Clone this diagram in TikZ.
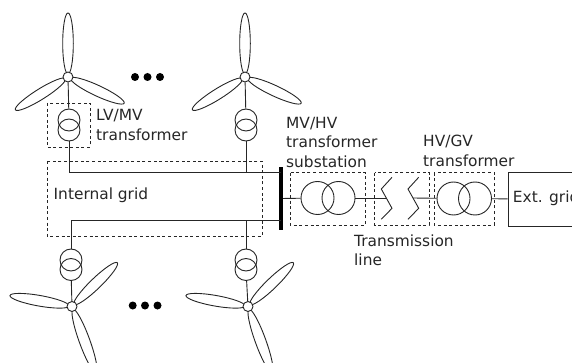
\documentclass[tikz,border=0pt]{standalone}
\usepackage{fontspec}
\setmainfont{DejaVu Sans}
\usepackage{tikz}
\usetikzlibrary{calc}

\tikzset{
    wire/.style={line width=0.9pt,color=black!85},
    hub/.style={circle,draw,line width=0.9pt,color=black!85,fill=white,inner sep=0pt,minimum size=10pt},
    coil/.style={circle,draw,line width=0.9pt,color=black!85,inner sep=0pt,minimum size=22pt},
    bigcoil/.style={circle,draw,line width=0.9pt,color=black!85,inner sep=0pt,minimum size=33pt},
    dashbox/.style={line width=0.8pt,color=black!85,dash pattern=on 3pt off 2.6pt},
    dot/.style={circle,fill=black,inner sep=0pt,minimum size=8pt},
    lbl/.style={anchor=west,align=left,inner sep=0pt,text=black!85,font=\fontsize{15.4}{19.5}\selectfont},
}

\begin{document}
\begin{tikzpicture}[x=1pt,y=-1pt]
    \useasboundingbox (0,0) rectangle (572,363);
    \clip (0,0) rectangle (572,363);
    % upper turbines
    \foreach \name/\hx/\hy in {hubA/68/77, hubB/245/77} {
        \foreach \a/\l in {90/64, 212/62, -25/62}
        \draw[wire,shift={(\hx,\hy)},rotate=\a] (\l/2+1.5,0) ellipse [x radius={(\l/2-1.5)*1pt},y radius=5.3pt];
        \node[hub] (\name) at (\hx,\hy) {};
    }
    % lower turbines
    \foreach \name/\hx/\hy in {hubC/72/306.5, hubD/248/306.5} {
        \foreach \a/\l in {170/63, 44/63, -70/70}
        \draw[wire,shift={(\hx,\hy)},rotate=\a] (\l/2+1.5,0) ellipse [x radius={(\l/2-1.5)*1pt},y radius=5.3pt];
        \node[hub] (\name) at (\hx,\hy) {};
    }
    % small transformers
    \foreach \name/\x/\ya/\yb in {trA/69/120/130, trB/246/120/130, trC/71/260/269.5, trD/246/260/269.5} {
        \node[coil] (\name a) at (\x,\ya) {};
        \node[coil] (\name b) at (\x,\yb) {};
    }
    % busbar
    \node[fill=black,inner sep=0pt,minimum width=3.6pt,minimum height=62pt] (bus) at (281,198.5) {};
    \coordinate (busTop) at (281,172.5);
    \coordinate (busBot) at (281,220.7);

    \draw[wire] (hubA) -- (trAa);
    \draw[wire] (hubB) -- (trBa);
    \draw[wire] (hubC) -- (trCb);
    \draw[wire] (hubD) -- (trDb);
    \draw[wire] (trAb.south) |- (busTop);
    \draw[wire] (trBb.south) -- (trBb.south |- busTop);
    \draw[wire] (trCa.north) |- (busBot);
    \draw[wire] (trDa.north) -- (trDa.north |- busBot);

    % dots
    \foreach \x in {135,147.5,160}
    \node[dot] (top\x) at (\x,77) {};
    \foreach \x in {132.7,145,157.5}
    \node[dot] (bot\x) at (\x,305.5) {};

    % main transformers
    \node[bigcoil] (mvA) at (317.5,198) {};
    \node[bigcoil] (mvB) at (338.5,198) {};
    \node[bigcoil] (hvA) at (453.5,198.5) {};
    \node[bigcoil] (hvB) at (475,198.5) {};

    % line symbol
    \draw[wire] (392,177.3) -- (381.3,189) -- (392,208.3) -- (381.3,219.3);
    \draw[wire] (418.7,177.3) -- (408,189) -- (418.7,208.3) -- (408,219.3);
    \coordinate (lineL) at (386.3,198);
    \coordinate (lineR) at (413,198);

    \node[draw,wire,anchor=west,minimum width=90pt,minimum height=53.5pt,inner sep=0pt] (ext) at (507.7,199.5) {};
    \node[lbl] at (512.7,198) {Ext. grid};

    \draw[wire] (bus) -- (mvA);
    \draw[wire] (mvB) -- (lineL);
    \draw[wire] (lineR) -- (hvA);
    \draw[wire] (hvB) -- (ext);

    % dashed boxes
    \draw[dashbox] (47,103) rectangle (90,147);
    \draw[dashbox] (47,161) rectangle (262,236);
    \draw[dashbox] (290,172.7) rectangle (365.5,225);
    \draw[dashbox] (374.7,172.7) rectangle (429,225);
    \draw[dashbox] (434.3,172.7) rectangle (494.3,225);

    % labels
    \node[lbl] at (96,125) {LV/MV\\transformer};
    \node[lbl] at (53.5,195) {Internal grid};
    \node[lbl] at (286,142) {MV/HV\\transformer\\substation};
    \node[lbl] at (423,151) {HV/GV\\transformer};
    \node[lbl] at (354,250.5) {Transmission\\line};
\end{tikzpicture}
\end{document}
